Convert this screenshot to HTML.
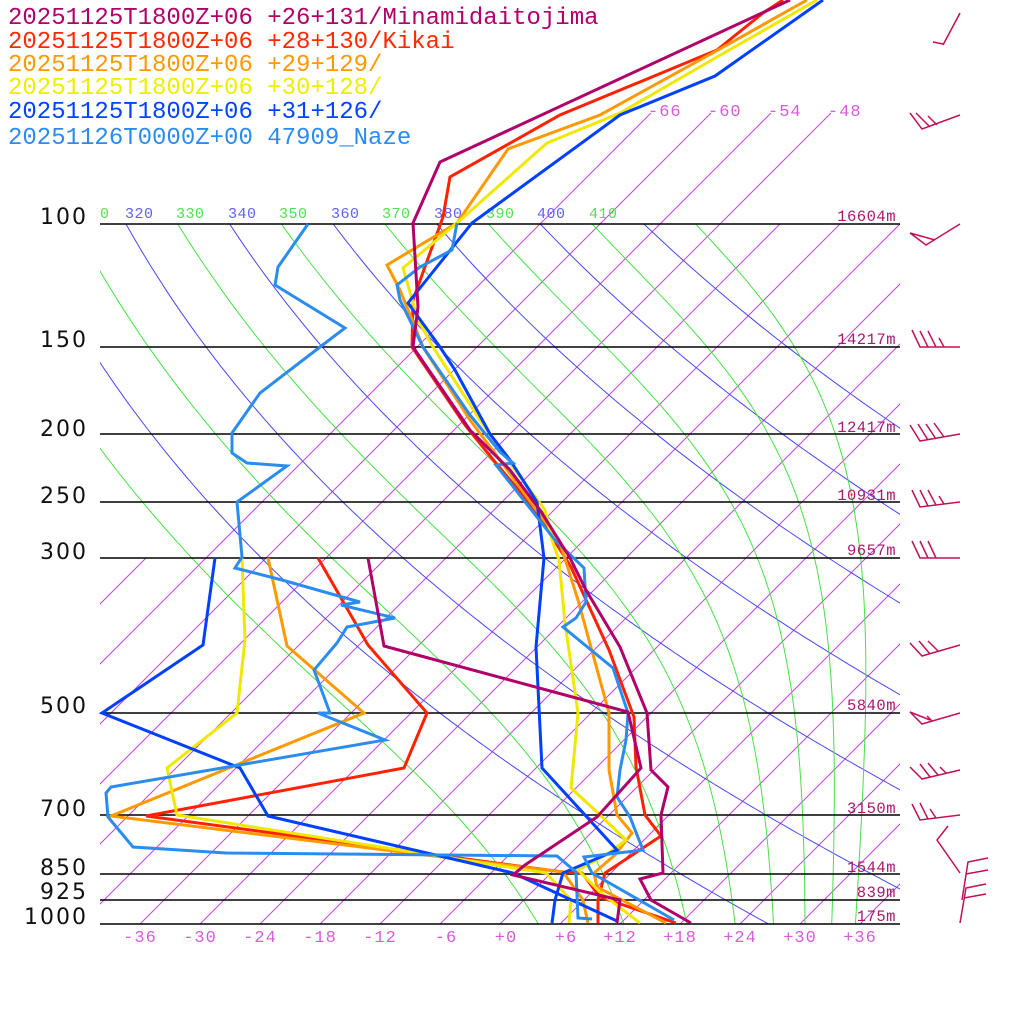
<!DOCTYPE html>
<html><head><meta charset="utf-8"><style>
html,body{margin:0;padding:0;background:#fff;}
svg{display:block;}
.lg{font-family:"Liberation Mono",monospace;font-size:24px;}
.pl{font-family:"DejaVu Sans","Liberation Sans",sans-serif;font-size:22px;fill:#111;letter-spacing:2px;}
.tl{font-family:"Liberation Mono",monospace;font-size:17px;fill:#d85cd8;letter-spacing:1px;}
.hl{font-family:"Liberation Mono",monospace;font-size:15.5px;fill:#a8186e;letter-spacing:0.5px;}
.th{font-family:"Liberation Mono",monospace;font-size:15px;letter-spacing:0.5px;}
.d{fill:none;stroke-width:3;stroke-linejoin:miter;}
</style></head><body>
<svg id="s" width="1024" height="1024" viewBox="0 0 1024 1024" xmlns="http://www.w3.org/2000/svg">
<defs>
<clipPath id="cA"><rect x="100" y="224" width="800" height="700"/></clipPath>
<clipPath id="cI"><rect x="100" y="110" width="800" height="814"/></clipPath>
<clipPath id="cL"><rect x="100" y="558" width="800" height="366"/></clipPath>
</defs>
<g id="bg"></g>
<g stroke="#000" stroke-width="1.5">
<line x1="100" y1="224" x2="900" y2="224"/><line x1="100" y1="347" x2="900" y2="347"/>
<line x1="100" y1="434" x2="900" y2="434"/><line x1="100" y1="502" x2="900" y2="502"/>
<line x1="100" y1="558" x2="900" y2="558"/><line x1="100" y1="713" x2="900" y2="713"/>
<line x1="100" y1="815" x2="900" y2="815"/><line x1="100" y1="874" x2="900" y2="874"/>
<line x1="100" y1="900" x2="900" y2="900"/><line x1="100" y1="924" x2="900" y2="924"/>
</g>
<g class="th">
<text x="100" y="218" fill="#50e050">0</text>
<text x="125" y="218" fill="#6060ff">320</text>
<text x="176" y="218" fill="#50e050">330</text>
<text x="228" y="218" fill="#6060ff">340</text>
<text x="279" y="218" fill="#50e050">350</text>
<text x="331" y="218" fill="#6060ff">360</text>
<text x="382" y="218" fill="#50e050">370</text>
<text x="434" y="218" fill="#6060ff">380</text>
<text x="486" y="218" fill="#50e050">390</text>
<text x="537" y="218" fill="#6060ff">400</text>
<text x="589" y="218" fill="#50e050">410</text>
</g>
<g class="tl">
<text x="648" y="116">-66</text><text x="708" y="116">-60</text><text x="768" y="116">-54</text><text x="828" y="116">-48</text>
</g>
<polyline class="d" stroke="#ff2200" points="783,0 763,13 717,50 560,115 450,177 443,217 413,300 412,347 465,425 495,462 535,510 571,567 609,650 634,717 636,767 645,815 661,836 605,873 598,900 598,923"/>
<polyline class="d" stroke="#ff2200" points="318,558 368,645 427,713 404,768 146,816 563,872 582,873 600,897 676,923"/>
<polyline class="d" stroke="#ff9900" points="807,0 718,50 600,115 508,149 457,223 387,265 400,290 423,347 470,420 500,460 540,515 559,540 578,600 609,713 609,770 617,815 632,833 615,855 594,873 597,887 666,923"/>
<polyline class="d" stroke="#ff9900" points="268,558 287,646 364,713 111,816 563,872 583,900 588,923"/>
<polyline class="d" stroke="#f0e800" points="817,0 717,57 620,113 547,143 457,223 403,268 418,320 433,347 480,420 515,470 545,510 552,540 559,560 565,623 578,713 571,788 598,813 626,840 609,853 578,870 601,893 640,923"/>
<polyline class="d" stroke="#f0e800" points="242,558 245,640 237,713 167,768 177,815 546,873 571,900 569,923"/>
<polyline class="d" stroke="#0040ff" points="823,0 715,76 620,115 472,223 408,303 440,347 455,370 490,434 510,460 537,502 544,558 536,647 542,768 617,850 563,873 555,900 552,923"/>
<polyline class="d" stroke="#0040ff" points="215,558 203,645 102,713 240,768 268,816 513,873 617,921"/>
<polyline class="d" stroke="#2b8cf0" points="457,223 452,250 420,267 397,285 400,300 423,347 470,415 500,452 513,463 496,465 555,540 584,568 586,602 576,618 563,627 613,668 628,713 626,740 620,770 617,797 630,817 643,850 584,857 592,873 674,920"/>
<polyline class="d" stroke="#2b8cf0" points="308,224 278,267 275,285 345,328 320,347 260,393 232,433 232,453 247,463 287,466 237,502 242,557 235,568 282,580 360,602 341,605 395,618 347,627 337,643 314,670 330,713 318,713 385,740 111,787 106,793 108,817 133,847 226,853 557,856 576,872 578,918 592,919"/>
<polyline class="d" stroke="#b0006a" points="790,0 440,162 413,223 418,307 413,347 470,430 510,470 540,510 570,558 586,590 620,647 647,713 651,770 668,787 661,815 663,873 640,879 651,900 691,923"/>
<polyline class="d" stroke="#b0006a" points="368,558 384,646 628,712 641,768 597,817 525,865 513,875 620,900 617,923"/>
<g class="pl" text-anchor="end">
<text x="88" y="224">100</text><text x="88" y="347">150</text><text x="88" y="436">200</text>
<text x="88" y="503">250</text><text x="88" y="559">300</text><text x="88" y="713">500</text>
<text x="88" y="816">700</text><text x="88" y="875">850</text><text x="88" y="899">925</text>
<text x="88" y="924">1000</text>
</g>
<g class="hl" text-anchor="end">
<text x="896" y="221">16604m</text><text x="896" y="344">14217m</text><text x="896" y="432">12417m</text>
<text x="896" y="500">10931m</text><text x="896" y="555">9657m</text><text x="896" y="710">5840m</text>
<text x="896" y="813">3150m</text><text x="896" y="872">1544m</text><text x="896" y="897">839m</text>
<text x="896" y="921">175m</text>
</g>
<g class="tl" text-anchor="middle">
<text x="140" y="942">-36</text><text x="200" y="942">-30</text><text x="260" y="942">-24</text>
<text x="320" y="942">-18</text><text x="380" y="942">-12</text><text x="446" y="942">-6</text>
<text x="506" y="942">+0</text><text x="566" y="942">+6</text><text x="620" y="942">+12</text>
<text x="680" y="942">+18</text><text x="740" y="942">+24</text><text x="800" y="942">+30</text>
<text x="860" y="942">+36</text>
</g>
<g class="lg">
<text x="8" y="24" fill="#b0006a">20251125T1800Z+06 +26+131/Minamidaitojima</text>
<text x="8" y="48" fill="#ff2a00">20251125T1800Z+06 +28+130/Kikai</text>
<text x="8" y="71" fill="#ff9900">20251125T1800Z+06 +29+129/</text>
<text x="8" y="94" fill="#eeee00">20251125T1800Z+06 +30+128/</text>
<text x="8" y="118" fill="#0044ff">20251125T1800Z+06 +31+126/</text>
<text x="8" y="144" fill="#2b8cf0">20251126T0000Z+00 47909_Naze</text>
</g>
<g stroke="#c0105a" stroke-width="1.5" fill="none">
<polyline points="960,13 943,45"/><line x1="933" y1="42" x2="943" y2="44"/>
<polyline points="960,115 922,129 910,113"/><line x1="930" y1="127" x2="916" y2="113"/><line x1="937" y1="125" x2="928" y2="116"/>
<polyline points="960,224 926,245 910,233 935,240"/>
<polyline points="960,347 920,347 912,330"/><line x1="928" y1="347" x2="920" y2="331"/><line x1="936" y1="347" x2="928" y2="331"/><line x1="944" y1="347" x2="939" y2="338"/>
<polyline points="960,434 920,441 910,425"/><line x1="928" y1="440" x2="918" y2="424"/><line x1="936" y1="439" x2="926" y2="424"/><line x1="944" y1="437" x2="934" y2="423"/>
<polyline points="960,502 920,507 912,490"/><line x1="928" y1="506" x2="920" y2="490"/><line x1="936" y1="505" x2="928" y2="490"/><line x1="944" y1="504" x2="939" y2="496"/>
<polyline points="960,558 920,558 912,541"/><line x1="928" y1="558" x2="920" y2="541"/><line x1="936" y1="558" x2="928" y2="541"/>
<polyline points="960,645 922,656 910,643"/><line x1="930" y1="654" x2="919" y2="641"/><line x1="938" y1="651" x2="928" y2="641"/>
<polyline points="960,713 922,724 910,712 930,720"/><line x1="932" y1="721" x2="927" y2="716"/>
<polyline points="960,770 922,779 910,767"/><line x1="930" y1="777" x2="920" y2="764"/><line x1="938" y1="775" x2="928" y2="763"/><line x1="946" y1="773" x2="940" y2="767"/>
<polyline points="960,815 920,820 912,804"/><line x1="928" y1="819" x2="920" y2="803"/><line x1="936" y1="818" x2="930" y2="809"/>
<polyline points="948,826 937,840 960,873"/>
<polyline points="962,900 968,862 988,858"/><line x1="966" y1="874" x2="988" y2="870"/>
<polyline points="960,923 966,888 986,884"/><line x1="964" y1="898" x2="986" y2="894"/>
</g>
</svg>
<script>
(function(){
var NS="http://www.w3.org/2000/svg",bg=document.getElementById("bg");
function Y(p){return 924-304*Math.log(1000/p);}
function X(T,p){return 500+10*T+(924-Y(p));}
function grp(clip){var g=document.createElementNS(NS,"g");g.setAttribute("clip-path","url(#"+clip+")");bg.appendChild(g);return g;}
function line(g,pts,col){var e=document.createElementNS(NS,"polyline");e.setAttribute("points",pts.map(function(a){return a[0].toFixed(1)+","+a[1].toFixed(1)}).join(" "));e.setAttribute("fill","none");e.setAttribute("stroke",col);e.setAttribute("stroke-width","1");g.appendChild(e);}
var gL=grp("cL"),gI=grp("cI"),gA=grp("cA");
var ic="#c844e0";
for(var T=-120;T<=60;T+=6){line(gL,[[X(T,1000),Y(1000)],[X(T,300),Y(300)]],ic);}
for(var T=-66;T<=60;T+=6){var yt=(T<=-48)?113:224;var pt=1000*Math.exp(-(924-yt)/304);line(gI,[[X(T,300),Y(300)],[X(T,pt),yt]],ic);}
for(var th=300;th<=420;th+=20){var pts=[];for(var p=80;p<=1000;p+=5){pts.push([X(th*Math.pow(p/1000,0.2857)-273.15,p),Y(p)]);}line(gA,pts,"#4848f0");}
function es(Tc){return 6.112*Math.exp(17.67*Tc/(Tc+243.5));}
for(var th=290;th<=430;th+=20){var p=100,Tk=th*Math.pow(0.1,0.2857),pts=[[X(Tk-273.15,p),Y(p)]];
while(p<1000){var e=es(Tk-273.15),rs=0.622*e/(p-e);var d=(287*Tk+2.5e6*rs)/(p*(1004+2.5e6*2.5e6*rs*0.622/(287*Tk*Tk)));Tk+=d*1;p+=1;if(p%5==0)pts.push([X(Tk-273.15,p),Y(p)]);}
line(gA,pts,"#48e048");}
})();
</script>
</body></html>
